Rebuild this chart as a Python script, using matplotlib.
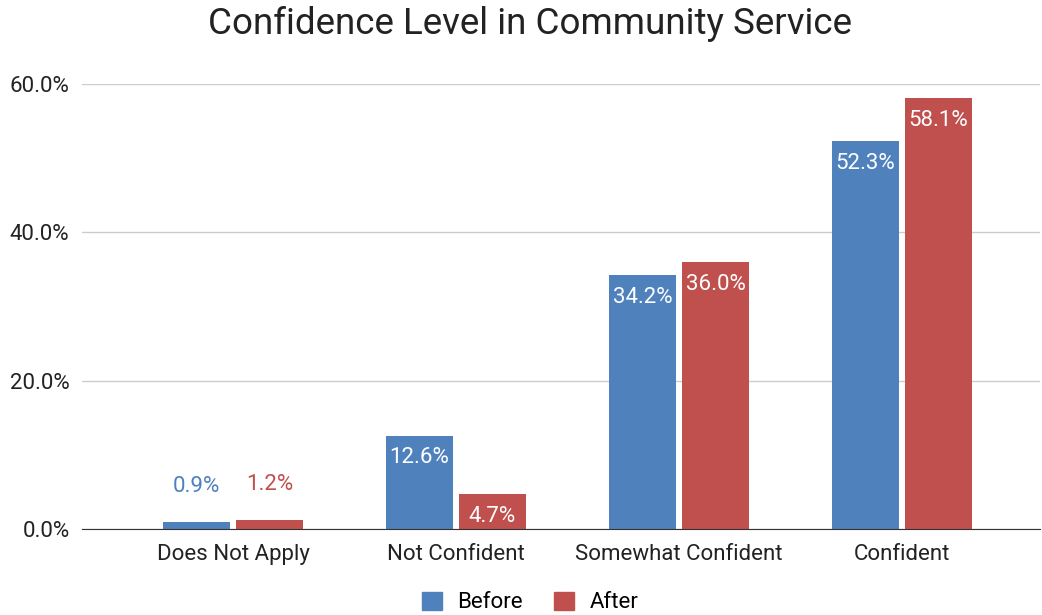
import numpy as np
from matplotlib import pyplot as plt
from matplotlib.patches import Patch

plt.rcParams['font.family'] = ['Roboto', 'DejaVu Sans']

categories = ['Does Not Apply', 'Not Confident', 'Somewhat Confident', 'Confident']
before = [0.9, 12.6, 34.2, 52.3]
after = [1.2, 4.7, 36.0, 58.1]
series_names = ['Before', 'After']
yticks = [0, 20, 40, 60]

blue = '#4f81bd'
red = '#c0504d'

fig = plt.figure(figsize=(10.42, 6.15), dpi=100)
ax = fig.add_axes([0.0787, 0.1398, 0.9193, 0.7236])

x = np.arange(len(categories))
w = 0.30
off = 0.164

bars_b = ax.bar(x - off, before, w, color=blue, zorder=3)
bars_a = ax.bar(x + off, after, w, color=red, zorder=3)

# labels inside the bar if there is room, otherwise above it in the bar colour
for bars, color in [(bars_b, blue), (bars_a, red)]:
    for b in bars:
        v = b.get_height()
        cx = b.get_x() + b.get_width() / 2
        if v > 3:
            ax.annotate(f'{v:.1f}%', (cx, v), xytext=(0, -16), textcoords='offset points',
                        ha='center', va='center', color='white', fontsize=16, zorder=4)
        else:
            ax.annotate(f'{v:.1f}%', (cx, v), xytext=(0, 26), textcoords='offset points',
                        ha='center', va='center', color=color, fontsize=16, zorder=4)

ax.set_ylim(0, 60)
ax.set_xlim(-0.677, 3.619)
ax.set_yticks(yticks)
ax.set_yticklabels([f'{t:.1f}%' for t in yticks], fontsize=16, color='#222222')
ax.set_xticks(x)
ax.set_xticklabels(categories, fontsize=16, color='#222222')
ax.tick_params(axis='both', length=0)
ax.tick_params(axis='y', pad=9)
ax.tick_params(axis='x', pad=11)

ax.grid(axis='y', color='#cccccc', linewidth=1, zorder=0)
for s in ['top', 'right', 'left']:
    ax.spines[s].set_visible(False)
ax.spines['bottom'].set_color('#333333')
ax.spines['bottom'].set_zorder(5)

fig.suptitle('Confidence Level in Community Service', fontsize=26.5, color='#222222',
             x=0.509, y=0.99)

handles = [Patch(color=blue, label=series_names[0]), Patch(color=red, label=series_names[1])]
fig.legend(handles=handles, loc='lower center', ncol=2, frameon=False, fontsize=16,
           bbox_to_anchor=(0.509, -0.03), handlelength=0.9, handleheight=0.9,
           handletextpad=0.7, columnspacing=1.4)

fig.savefig('out.png', dpi=100)
